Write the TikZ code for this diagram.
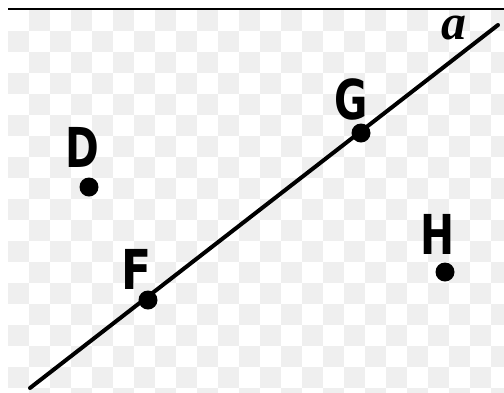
\documentclass[tikz,border=0pt]{standalone}
\usepackage{fontspec}
\usepackage{xcolor}
\usepackage{tikz}
\usetikzlibrary{positioning}
\newfontfamily\lblfont{DejaVu Sans}
\newfontfamily\linefont{Liberation Serif}
\definecolor{checkgray}{RGB}{239, 239, 239}

\begin{document}
\begin{tikzpicture}[x=1pt, y=-1pt, line cap=round,
        pt/.style={circle, fill=black, inner sep=0pt, minimum size=19pt},
        lbl/.style={inner sep=0pt, font=\fontsize{55}{55}\selectfont\lblfont\bfseries}]
        \useasboundingbox (0,0) rectangle (504,392);

        % Checker background
        \begin{scope}
            \clip (8,10) rectangle (504,392);
            \foreach \i in {0,...,18} {
                \foreach \j in {0,...,23} {
                    \pgfmathtruncatemacro{\odd}{mod(\i+\j,2)}
                    \ifnum\odd=1
                        \fill[checkgray] ({8+21*\j},{10+21*\i}) rectangle ++(21,21);
                    \fi
                }
            }
        \end{scope}

        % Top rule
        \draw[line width=2pt, line cap=butt] (8,8.5) -- (504,8.5);

        % Line a
        \coordinate (aStart) at (30,388);
        \coordinate (aEnd) at (498,25);
        \draw[line width=4pt] (aStart) -- (aEnd);
        \node[font=\fontsize{50}{50}\selectfont\linefont\bfseries\itshape] (aLabel) at (454,28) {a};

        % Points
        \node[pt] (D) at (89,187) {};
        \node[pt] (F) at (148,300) {};
        \node[pt] (G) at (361,133) {};
        \node[pt] (H) at (445,272) {};

        % Labels
        \node[lbl] (labD) at (82,147) {\scalebox{0.74}[1]{D}};
        \node[lbl] (labF) at (137,269) {\scalebox{0.8}[1]{F}};
        \node[lbl] (labG) at (351,99) {\scalebox{0.74}[1]{G}};
        \node[lbl] (labH) at (438,234) {\scalebox{0.74}[1]{H}};
    \end{tikzpicture}
\end{document}
